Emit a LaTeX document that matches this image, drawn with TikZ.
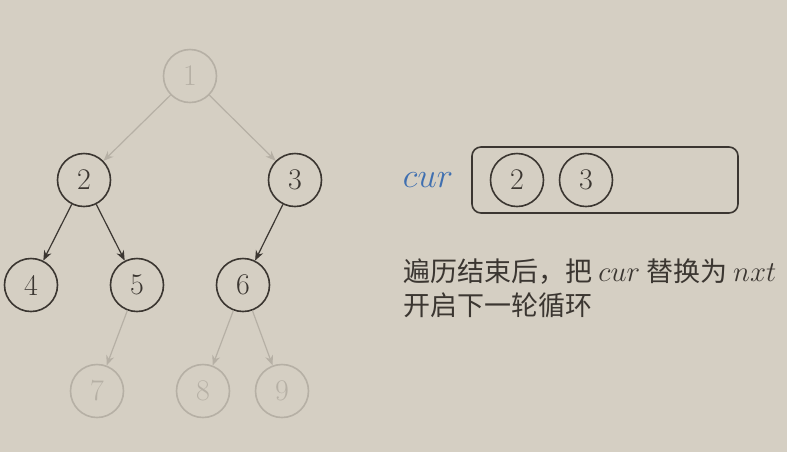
\documentclass[tikz,border=0pt]{standalone}
\usepackage{fontspec}
\usepackage{tikz}
\usetikzlibrary{arrows.meta}
\newfontfamily\cjk{Noto Sans CJK SC}

\definecolor{bgcol}{HTML}{D5CFC3}
\definecolor{inkcol}{HTML}{3B3631}
\definecolor{fadecol}{HTML}{B6B0A5}
\definecolor{curblue}{HTML}{3F6FB0}

\begin{document}
\begin{tikzpicture}[x=0.5pt, y=-0.5pt,
  tnode/.style={circle, draw=inkcol, line width=0.8pt, text=inkcol,
    minimum size=26.5pt, inner sep=0pt, font=\fontsize{15}{17}\selectfont},
  fnode/.style={tnode, draw=fadecol, text=fadecol},
  edge/.style={-{Stealth[length=5pt, width=4pt]}, line width=0.6pt, draw=inkcol},
  fedge/.style={edge, draw=fadecol}]

  % Background
  \fill[bgcol] (0,0) rectangle (787,452);
  \useasboundingbox (0,0) rectangle (787,452);

  % Tree nodes
  \node[fnode] (n1) at (190,76) {1};
  \node[tnode] (n2) at (84,180) {2};
  \node[tnode] (n3) at (295,180) {3};
  \node[tnode] (n4) at (31,285) {4};
  \node[tnode] (n5) at (137,285) {5};
  \node[tnode] (n6) at (243,285) {6};
  \node[fnode] (n7) at (97,391) {7};
  \node[fnode] (n8) at (203,391) {8};
  \node[fnode] (n9) at (282,391) {9};

  % Edges
  \draw[fedge] (n1) -- (n2);
  \draw[fedge] (n1) -- (n3);
  \draw[edge] (n2) -- (n4);
  \draw[edge] (n2) -- (n5);
  \draw[edge] (n3) -- (n6);
  \draw[fedge] (n5) -- (n7);
  \draw[fedge] (n6) -- (n8);
  \draw[fedge] (n6) -- (n9);

  % Current level queue
  \node[text=curblue, font=\fontsize{17}{20}\selectfont] (curlabel) at (428,180) {$cur$};
  \draw[draw=inkcol, line width=0.8pt, rounded corners=4.5pt] (472,147) rectangle (738,213);
  \node[tnode] (q2) at (517,180) {2};
  \node[tnode] (q3) at (586,180) {3};

  % Explanation
  \node[anchor=north west, inner sep=0pt, text=inkcol, align=left,
    font=\cjk\fontsize{13.5}{17}\selectfont] (note) at (403,258)
    {遍历结束后，把 $cur$ 替换为 $nxt$\\开启下一轮循环};
\end{tikzpicture}
\end{document}
